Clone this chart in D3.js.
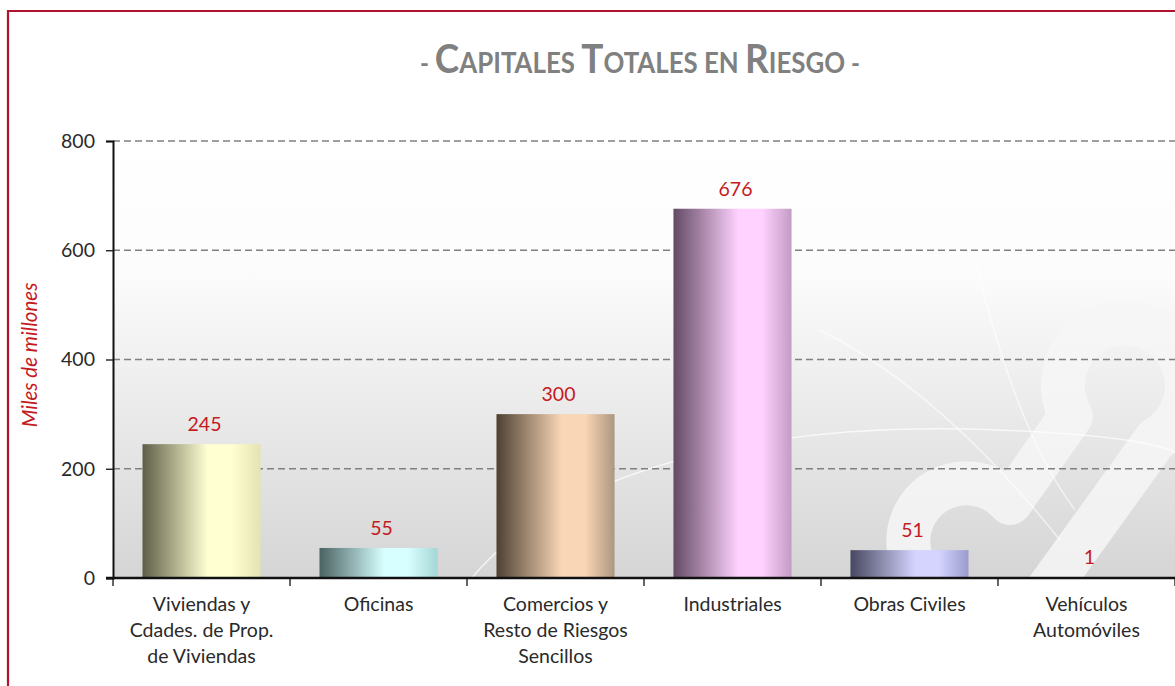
<!DOCTYPE html>
<html>
<head>
<meta charset="utf-8">
<script src="https://cdn.jsdelivr.net/npm/d3@7"></script>
<style>
    html, body { margin: 0; padding: 0; background: #fff; overflow: hidden; }
    svg { display: block; font-family: Lato, 'Open Sans', sans-serif; }
</style>
</head>
<body>
<svg id="chart" width="1175" height="686"></svg>
<script>
var categories = [
    'Viviendas y\nCdades. de Prop.\nde Viviendas',
    'Oficinas',
    'Comercios y\nResto de Riesgos\nSencillos',
    'Industriales',
    'Obras Civiles',
    'Vehículos\nAutomóviles'
];
var values = [245, 55, 300, 676, 51, 1];
var yTicks = [0, 200, 400, 600, 800];
// dark edge, light middle, right edge for each bar
var barColors = [
    ['#5e5e48', '#ffffd2', '#e4e4b2'],
    ['#4a6262', '#d8ffff', '#a6d6d6'],
    ['#4e4032', '#f9d6b6', '#ad9680'],
    ['#624a64', '#ffd2ff', '#c29cc4'],
    ['#474760', '#d4d4ff', '#9a9acc'],
    ['#555555', '#eeeeee', '#bbbbbb']
];

$draw();

function $draw() {
    var svg = d3.select('#chart');
    var left = 113, top = 141, right = 1175, bottom = 578;
    var defs = svg.append('defs');

    var x = d3.scaleBand()
        .domain(categories)
        .range([left, right])
        .paddingInner(0.333)
        .paddingOuter(0.1667);
    var y = d3.scaleLinear()
        .domain([0, 800])
        .range([bottom, top]);

    // plot background
    var bg = defs.append('linearGradient').attr('id', 'bgGrad')
        .attr('x1', 0).attr('y1', 0).attr('x2', 0).attr('y2', 1);
    bg.append('stop').attr('offset', '0%').attr('stop-color', '#ffffff');
    bg.append('stop').attr('offset', '30%').attr('stop-color', '#fcfcfc');
    bg.append('stop').attr('offset', '100%').attr('stop-color', '#d5d5d5');
    defs.append('clipPath').attr('id', 'plotClip')
        .append('rect')
        .attr('x', left).attr('y', top)
        .attr('width', right - left).attr('height', bottom - top);
    svg.append('rect')
        .attr('x', left).attr('y', top)
        .attr('width', right - left).attr('height', bottom - top)
        .attr('fill', 'url(#bgGrad)');

    // watermark logo and swooshes
    var deco = svg.append('g').attr('clip-path', 'url(#plotClip)');
    deco.append('path')
        .attr('d', 'M905,600 L911.5,560 A58,58 0 0 1 1010,503 L1071,416 A62,62 0 1 1 1156,439 L1040,600')
        .attr('fill', 'none').attr('stroke', '#f6f6f6').attr('stroke-opacity', 0.85)
        .attr('stroke-width', 44).attr('stroke-linejoin', 'round');
    deco.append('path')
        .attr('d', 'M470,580 C560,470 760,420 1000,430 S1175,470 1175,470')
        .attr('fill', 'none').attr('stroke', '#ffffff').attr('stroke-opacity', 0.7)
        .attr('stroke-width', 1.5);
    deco.append('path')
        .attr('d', 'M820,330 C900,370 980,440 1060,540')
        .attr('fill', 'none').attr('stroke', '#ffffff').attr('stroke-opacity', 0.6)
        .attr('stroke-width', 1.5);
    deco.append('path')
        .attr('d', 'M975,260 C1000,360 1030,450 1075,510')
        .attr('fill', 'none').attr('stroke', '#ffffff').attr('stroke-opacity', 0.6)
        .attr('stroke-width', 1.5);

    // grid lines
    svg.append('g')
        .selectAll('line')
        .data(yTicks.filter(function (d) { return d > 0; }))
        .enter()
        .append('line')
        .attr('x1', left).attr('x2', right)
        .attr('y1', function (d) { return y(d); })
        .attr('y2', function (d) { return y(d); })
        .attr('stroke', '#808080')
        .attr('stroke-width', 1.6)
        .attr('stroke-dasharray', '7,4');

    // bars
    values.forEach(function (v, i) {
        var g = defs.append('linearGradient').attr('id', 'bar' + i)
            .attr('x1', 0).attr('y1', 0).attr('x2', 1).attr('y2', 0);
        g.append('stop').attr('offset', '0%').attr('stop-color', barColors[i][0]);
        g.append('stop').attr('offset', '55%').attr('stop-color', barColors[i][1]);
        g.append('stop').attr('offset', '75%').attr('stop-color', barColors[i][1]);
        g.append('stop').attr('offset', '100%').attr('stop-color', barColors[i][2]);
    });
    svg.append('g')
        .selectAll('rect')
        .data(values)
        .enter()
        .append('rect')
        .attr('x', function (d, i) { return x(categories[i]); })
        .attr('y', function (d) { return y(d); })
        .attr('width', x.bandwidth())
        .attr('height', function (d) { return y(0) - y(d); })
        .attr('fill', function (d, i) { return 'url(#bar' + i + ')'; });

    // data labels
    svg.append('g')
        .selectAll('text')
        .data(values)
        .enter()
        .append('text')
        .attr('x', function (d, i) { return x(categories[i]) + x.bandwidth() / 2 + 3; })
        .attr('y', function (d) { return y(d) - 13; })
        .attr('text-anchor', 'middle')
        .attr('fill', '#c41a22')
        .style('font-size', '19.5px')
        .text(function (d) { return d; });

    // y axis
    var yAxis = svg.append('g')
        .attr('transform', 'translate(' + left + ',0)')
        .call(d3.axisLeft(y).tickValues(yTicks).tickSize(7).tickPadding(11));
    yAxis.select('.domain').attr('stroke', '#111').attr('stroke-width', 2);
    yAxis.selectAll('.tick line').attr('stroke', '#111').attr('stroke-width', 1.3);
    yAxis.selectAll('.tick text')
        .attr('fill', '#2a2a2a')
        .style('font-size', '19.5px')
        .style('font-family', 'Lato, sans-serif');

    // x axis
    var boundaries = categories.map(function (c) {
        return x(c) - x.step() * x.paddingInner() / 2;
    });
    boundaries.push(right);
    svg.append('g')
        .selectAll('line')
        .data(boundaries)
        .enter()
        .append('line')
        .attr('x1', function (d) { return d; })
        .attr('x2', function (d) { return d; })
        .attr('y1', bottom).attr('y2', bottom + 8)
        .attr('stroke', '#111').attr('stroke-width', 1.3);
    svg.append('line')
        .attr('x1', left - 7).attr('x2', right)
        .attr('y1', bottom).attr('y2', bottom)
        .attr('stroke', '#111').attr('stroke-width', 2.5);

    svg.append('g')
        .selectAll('text')
        .data(categories)
        .enter()
        .append('text')
        .attr('text-anchor', 'middle')
        .attr('fill', '#2a2a2a')
        .style('font-size', '19.5px')
        .attr('transform', function (d) {
            return 'translate(' + (x(d) + x.bandwidth() / 2) + ',' + 611 + ')';
        })
        .each(function (d) {
            var t = d3.select(this);
            d.split('\n').forEach(function (line, j) {
                t.append('tspan').attr('x', 0).attr('y', j * 26).text(line);
            });
        });

    // y axis title
    svg.append('text')
        .attr('transform', 'translate(37,355) rotate(-90)')
        .attr('text-anchor', 'middle')
        .attr('fill', '#c41a22')
        .style('font-size', '20.5px')
        .style('font-style', 'italic')
        .text('Miles de millones');

    // title in small caps
    var title = svg.append('text')
        .attr('x', 640).attr('y', 73)
        .attr('text-anchor', 'middle')
        .attr('fill', '#808080')
        .style('font-weight', 'bold');
    var parts = [['- ', 26], ['C', 40], ['APITALES ', 28], ['T', 40], ['OTALES EN ', 28], ['R', 40], ['IESGO', 28], [' -', 26]];
    parts.forEach(function (p) {
        title.append('tspan').style('font-size', p[1] + 'px').text(p[0]);
    });
    var w = title.node().getComputedTextLength();
    var k = 440 / w;
    title.attr('transform', 'translate(640,0) scale(' + k + ',1) translate(-640,0)');

    // outer border
    svg.append('path')
        .attr('d', 'M8,700 L8,11 L1190,11')
        .attr('fill', 'none')
        .attr('stroke', '#b3122f')
        .attr('stroke-width', 2.2);
}
</script>
</body>
</html>
